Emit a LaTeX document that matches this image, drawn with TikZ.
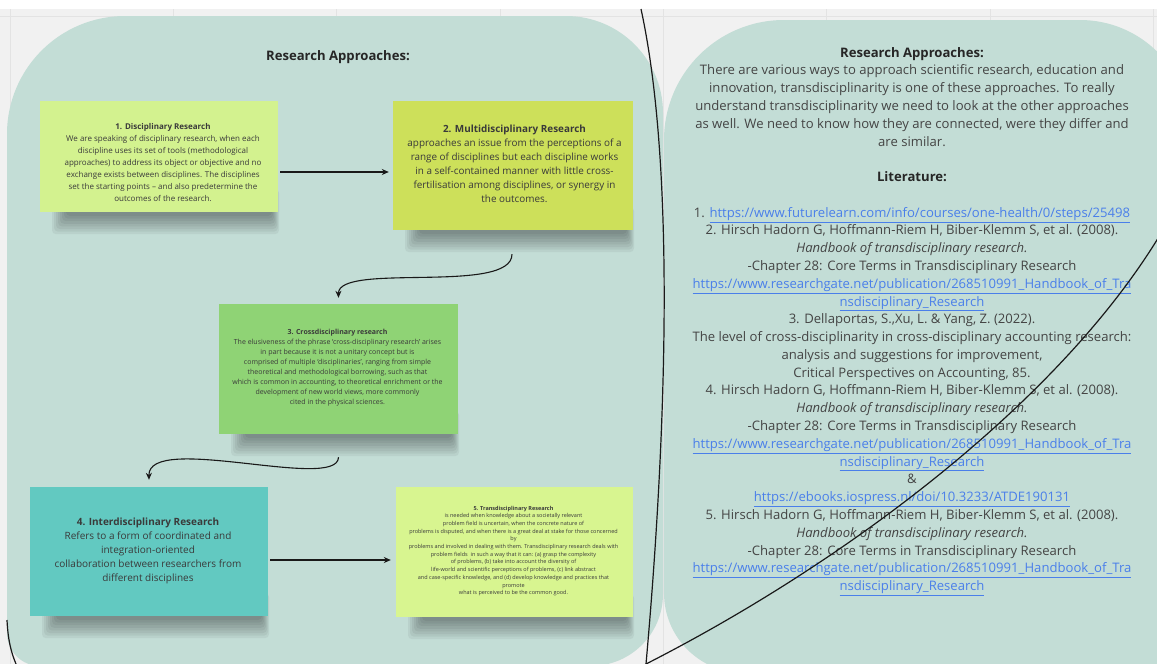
\documentclass[tikz,border=0pt]{standalone}
\usepackage{fontspec}
\setmainfont{Open Sans}
\usetikzlibrary{arrows.meta,calc}

\definecolor{canvas}{HTML}{F1F1F1}
\definecolor{gridline}{HTML}{E3E3E3}
\definecolor{panel}{HTML}{C3DDD6}
\definecolor{noteA}{HTML}{D3F28F}
\definecolor{noteB}{HTML}{CDE05A}
\definecolor{noteC}{HTML}{8FD375}
\definecolor{noteD}{HTML}{62C9C1}
\definecolor{noteE}{HTML}{D8F590}
\definecolor{ink}{HTML}{3A3A3A}
\definecolor{bodytext}{HTML}{444444}
\definecolor{linkblue}{HTML}{4A7FEA}

\newcommand\lnk[1]{\textcolor{linkblue}{\underline{#1}}}

% soft shadow under a sticky note: x1 y1 x2 y2 of the note
\newcommand\noteshadow[4]{%
  \foreach \k in {0,...,7}{%
    \fill[black, opacity=0.05, rounded corners=4pt]
      ({#1+26-\k*2},{#4-30+\k}) rectangle ({#3-6+\k},{#4+4+\k*2.6});
  }%
}

\tikzset{
  notebox/.style={inner sep=0pt, draw=none},
  notetext/.style={inner sep=0pt, align=center, text=ink},
  flow/.style={draw=black!90, line width=1.1pt, -{Stealth[length=7pt,width=6pt]}},
  pen/.style={draw=black!90, line width=1.2pt},
  title/.style={font=\bfseries\fontsize{13.1pt}{16pt}\selectfont, text=black!85},
}

\begin{document}
\begin{tikzpicture}[x=1pt,y=-1pt]
\useasboundingbox (0,0) rectangle (1157,664);

% board background with faint grid
\fill[white] (0,0) rectangle (1157,664);
\fill[canvas] (0,9) rectangle (1157,664);
\foreach \gx in {10,173,336,500,663,826,990,1153}
  \draw[gridline, line width=0.8pt] (\gx,9) -- (\gx,664);
\draw[gridline, line width=0.8pt] (0,16) -- (1157,16);

% left frame
\fill[panel] (7,134) arc[start angle=180, end angle=270, radius=118]
  -- (566,16) arc[start angle=270, end angle=360, radius=97]
  -- (663,594) arc[start angle=0, end angle=90, radius=72]
  -- (40,666) arc[start angle=90, end angle=180, radius=33] -- cycle;

% right frame
\fill[panel] (664,140) arc[start angle=180, end angle=270, radius=120]
  -- (1080,20) arc[start angle=270, end angle=360, radius=110]
  -- (1190,700) -- (744,673) arc[start angle=90, end angle=180, radius=80] -- cycle;

% left frame content
\node[title, anchor=base] (lt) at (338,60) {Research Approaches:};

\noteshadow{40}{101}{278}{212}
\noteshadow{393}{101}{633}{230}
\noteshadow{219}{304}{458}{434}
\noteshadow{30}{487}{268}{616}
\noteshadow{396}{487}{633}{617}

% sticky notes
\node[notebox, fill=noteA, minimum width=238pt, minimum height=111pt] (n1) at (159,156.5) {};
\node[notebox, fill=noteB, minimum width=240pt, minimum height=129pt] (n2) at (513,165.5) {};
\node[notebox, fill=noteC, minimum width=239pt, minimum height=130pt] (n3) at (338.5,369) {};
\node[notebox, fill=noteD, minimum width=238pt, minimum height=129pt] (n4) at (149,551.5) {};
\node[notebox, fill=noteE, minimum width=237pt, minimum height=130pt] (n5) at (514.5,552) {};

\node[notetext, font=\fontsize{8pt}{12pt}\selectfont] (t1) at ([xshift=4pt,yshift=-6.5pt]n1.center)
 {\textbf{1. Disciplinary Research}\\
  We are speaking of disciplinary research, when each\\
  discipline uses its set of tools (methodological\\
  approaches) to address its object or objective and no\\
  exchange exists between disciplines. The disciplines\\
  set the starting points -- and also predetermine the\\
  outcomes of the research.};

\node[notetext, font=\fontsize{9.9pt}{14pt}\selectfont] (t2) at ([xshift=1.5pt,yshift=2pt]n2.center)
 {\textbf{2. Multidisciplinary Research}\\
  approaches an issue from the perceptions of a\\
  range of disciplines but each discipline works\\
  in a self-contained manner with little cross-\\
  fertilisation among disciplines, or synergy in\\
  the outcomes.};

\node[notetext, font=\fontsize{7pt}{10pt}\selectfont] (t3) at ([xshift=-1pt,yshift=1pt]n3.center)
 {\textbf{3. Crossdisciplinary research}\\
  The elusiveness of the phrase `cross-disciplinary research' arises\\
  in part because it is not a unitary concept but is\\
  comprised of multiple `disciplinaries', ranging from simple\\
  theoretical and methodological borrowing, such as that\\
  which is common in accounting, to theoretical enrichment or the\\
  development of new world views, more commonly\\
  cited in the physical sciences.};

\node[notetext, font=\fontsize{10pt}{14pt}\selectfont] (t4) at ([xshift=-1pt,yshift=1pt]n4.center)
 {\textbf{4. Interdisciplinary Research}\\
  Refers to a form of coordinated and\\
  integration-oriented\\
  collaboration between researchers from\\
  different disciplines};

\node[notetext, font=\fontsize{5.5pt}{7.7pt}\selectfont] (t5) at ([xshift=-1pt,yshift=1pt]n5.center)
 {\textbf{5. Transdisciplinary Research}\\
  is needed when knowledge about a societally relevant\\
  problem field is uncertain, when the concrete nature of\\
  problems is disputed, and when there is a great deal at stake for those concerned\\
  by\\
  problems and involved in dealing with them. Transdisciplinary research deals with\\
  problem fields\ \ in such a way that it can: (a) grasp the complexity\\
  of problems, (b) take into account the diversity of\\
  life-world and scientific perceptions of problems, (c) link abstract\\
  and case-specific knowledge, and (d) develop knowledge and practices that\\
  promote\\
  what is perceived to be the common good.};

% connectors between the approaches
\draw[flow] ([xshift=2pt,yshift=-15.5pt]n1.east) -- ([xshift=-4pt,yshift=-6.5pt]n2.west);
\draw[flow] ([xshift=-1pt,yshift=-24pt]n2.south)
  .. controls (512,295) and (338,262) .. ([yshift=6pt]n3.north);
\draw[flow] ([yshift=-23pt]n3.south)
  .. controls (338,492) and (148,432) .. ([yshift=7pt]n4.north);
\draw[flow] ([xshift=2pt,yshift=-8.5pt]n4.east) -- ([xshift=-5pt,yshift=-8pt]n5.west);

% right frame content
\node[inner sep=0pt, anchor=north, align=center, text=bodytext,
      font=\fontsize{13.1pt}{17.78pt}\selectfont] (rt) at (912,47)
 {\textbf{\textcolor{black!85}{Research Approaches:}}\\
  There are various ways to approach scientific research, education and\\
  innovation, transdisciplinarity is one of these approaches. To really\\
  understand transdisciplinarity we need to look at the other approaches\\
  as well. We need to know how they are connected, were they differ and\\
  are similar.\\[17.78pt]
  \textbf{\textcolor{black!85}{Literature:}}\\[17.78pt]
  1. \lnk{https://www.futurelearn.com/info/courses/one-health/0/steps/25498}\\
  2. Hirsch Hadorn G, Hoffmann-Riem H, Biber-Klemm S, et al. (2008).\\
  \textit{Handbook of transdisciplinary research.}\\
  -Chapter 28: Core Terms in Transdisciplinary Research\\
  \lnk{https://www.researchgate.net/publication/268510991\_Handbook\_of\_Tra}\\
  \lnk{nsdisciplinary\_Research}\\
  3. Dellaportas, S.,Xu, L. \& Yang, Z. (2022).\\
  The level of cross-disciplinarity in cross-disciplinary accounting research:\\
  analysis and suggestions for improvement,\\
  Critical Perspectives on Accounting, 85.\\
  4. Hirsch Hadorn G, Hoffmann-Riem H, Biber-Klemm S, et al. (2008).\\
  \textit{Handbook of transdisciplinary research.}\\
  -Chapter 28: Core Terms in Transdisciplinary Research\\
  \lnk{https://www.researchgate.net/publication/268510991\_Handbook\_of\_Tra}\\
  \lnk{nsdisciplinary\_Research}\\
  \&\\
  \lnk{https://ebooks.iospress.nl/doi/10.3233/ATDE190131}\\
  5. Hirsch Hadorn G, Hoffmann-Riem H, Biber-Klemm S, et al. (2008).\\
  \textit{Handbook of transdisciplinary research.}\\
  -Chapter 28: Core Terms in Transdisciplinary Research\\
  \lnk{https://www.researchgate.net/publication/268510991\_Handbook\_of\_Tra}\\
  \lnk{nsdisciplinary\_Research}};

% hand-drawn pen strokes across the board
\coordinate (pa) at (641,9);
\coordinate (pb) at (646,664);
\coordinate (pc) at (1160,235);
\coordinate (pd) at (7,620);
\coordinate (pe) at (16,664);
\draw[pen] (pa) .. controls (676,170) and (666,440) .. (pb);
\draw[pen] (pb) .. controls (850,560) and (1060,400) .. (pc);
\draw[pen] (pd) .. controls (8,640) and (11,652) .. (pe);
\end{tikzpicture}
\end{document}
